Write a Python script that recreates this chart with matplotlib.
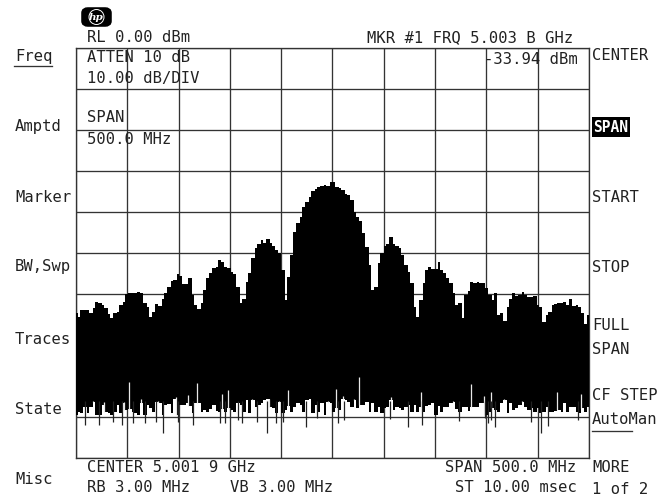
import matplotlib
matplotlib.use("Agg")
import matplotlib.pyplot as plt
import numpy as np
from matplotlib.patches import Ellipse, FancyBboxPatch, Rectangle

W, H = 661, 501

start_mhz = 4751.9
stop_mhz = 5251.9
ref_db = 0.0
bottom_db = -100.0

# upper edge of the trace, dBm, even steps across the sweep
trace_top = [
    -64.7, -65.5, -63.9, -63.9, -63.9, -64.6, -63.3, -61.9, -62.3, -62.7, -63.5, -64.9, -65.9, -64.6,
    -64.3, -62.7, -61.9, -60.0, -59.8, -59.8, -59.7, -59.4, -59.8, -62.3, -63.1, -65.5, -64.3, -62.4,
    -62.9, -61.1, -59.8, -58.2, -56.8, -56.6, -55.1, -55.6, -57.6, -57.6, -56.0, -60.2, -62.7, -63.7,
    -62.3, -59.0, -56.0, -54.8, -53.7, -53.3, -51.7, -52.1, -53.5, -53.7, -54.6, -55.1, -58.2,
    -62.1, -61.1, -57.0, -55.0, -51.1, -48.9, -47.8, -46.8, -47.6, -46.7, -47.5, -48.3, -49.3, -50.0,
    -54.2, -61.5, -55.8, -50.5, -44.8, -42.8, -41.1, -38.7, -37.5, -36.3, -34.8, -34.5, -33.8, -33.7,
    -33.4, -33.7, -32.7, -32.8, -33.8, -34.2, -34.6, -35.6, -35.9, -37.1, -39.9, -41.1, -42.1, -45.2,
    -48.5, -52.9, -59.0, -58.2, -52.5, -50.1, -48.3, -47.8, -46.0, -47.8, -48.3, -48.9, -50.5, -52.9, -54.6,
    -57.4, -63.1, -65.5, -61.5, -57.4, -54.2, -53.5, -54.0, -54.0, -52.1, -54.2, -55.0, -56.2, -57.4,
    -59.8, -62.7, -62.3, -65.9, -60.2, -59.2, -57.0, -57.4, -57.0, -57.4, -57.2, -58.6, -60.2, -61.5,
    -59.8, -65.1, -64.7, -66.5, -63.1, -61.1, -59.8, -60.5, -60.2, -59.4, -60.2, -60.7, -60.7, -60.5,
    -62.7, -63.1, -66.8, -65.1, -64.3, -62.7, -62.4, -62.3, -62.3, -61.9, -62.7, -61.1, -62.9, -62.7,
    -63.1, -64.7, -67.2, -65.1,
]

# lower edge of the trace, dBm
trace_floor = [
    -89.5, -88.7, -89.1, -87.5, -89.1, -87.5, -86.3, -89.5, -89.5, -87.1, -88.7, -89.1, -89.5, -88.7,
    -87.1, -89.1, -86.7, -88.3, -88.1, -88.7, -89.1, -89.5, -86.7, -89.5, -87.1, -87.9, -88.7, -86.3,
    -86.7, -89.5, -87.1, -86.9, -89.1, -85.5, -89.5, -87.1, -87.1, -86.7, -87.3, -89.1, -86.7, -86.7,
    -88.7, -88.3, -88.7, -88.1, -87.1, -88.5, -88.7, -88.1, -88.7, -87.9, -88.3, -88.7, -86.7,
    -87.1, -88.7, -85.9, -89.1, -85.9, -87.5, -87.1, -86.7, -85.9, -85.7, -87.5, -87.9, -89.1, -86.3,
    -89.1, -88.3, -87.3, -88.7, -87.5, -86.7, -87.1, -88.7, -85.9, -85.5, -89.1, -87.1, -88.7, -86.7,
    -89.5, -86.3, -86.7, -88.7, -87.9, -88.3, -85.5, -85.9, -86.3, -87.5, -85.9, -87.9, -87.1, -87.1,
    -86.3, -88.7, -86.7, -88.7, -87.5, -89.1, -87.9, -87.5, -85.9, -88.3, -87.5, -87.9, -88.3, -87.5, -87.1,
    -88.7, -87.1, -88.7, -87.5, -88.7, -87.3, -87.1, -86.7, -89.5, -87.3, -88.7, -87.5, -87.5, -86.7,
    -86.3, -88.1, -88.7, -87.5, -87.5, -88.5, -87.5, -87.6, -87.5, -86.7, -86.7, -89.5, -88.7, -87.9,
    -88.3, -88.7, -86.7, -85.9, -89.1, -86.7, -88.3, -87.9, -87.1, -86.3, -87.5, -88.3, -87.9, -88.7,
    -87.9, -89.1, -88.7, -87.5, -88.7, -88.7, -88.5, -88.3, -88.7, -86.7, -88.7, -87.5, -87.6, -88.7,
    -89.1, -87.9, -88.7, -87.6,
]

# thin gaps cut up into the black band
notch_mhz = [
    4803.6, 4869.5, 4900.4, 4893.9, 4861.4, 4815.3, 4849.4, 4768.1, 4779.2, 4799.0, 4831.5, 4846.8,
    4918.3, 4958.2, 5005.3, 5027.7, 5011.8, 5022.9, 4977.7, 5058.9, 4923.1, 4940.3, 4949.4, 4997.9,
    5087.8, 5136.5, 5149.9, 5156.4, 5168.7, 5220.4, 5244.1, 5186.2, 5119.0,
]
notch_db = [
    -81.4, -81.8, -83.4, -84.4, -84.6, -85.5, -85.2, -86.0, -86.4, -86.4, -86.0, -85.5,
    -85.9, -83.4, -83.2, -80.3, -85.0, -85.5, -85.5, -85.2, -85.7, -85.5, -86.0, -86.0,
    -83.8, -82.0, -85.0, -83.9, -85.7, -83.9, -84.4, -86.0, -86.0,
]

# thin spikes hanging below the band
dip_mhz = [
    4760.7, 4774.6, 4788.3, 4796.4, 4807.8, 4819.2, 4829.9, 4837.0, 4851.0, 4865.6, 4892.3, 4897.1,
    4909.5, 4913.4, 4928.0, 4937.7, 4946.8, 4954.0, 4975.8, 4986.5, 5007.6, 5013.4, 5057.9, 5075.2,
    5088.8, 5125.5, 5150.2, 5153.8, 5156.4, 5160.3, 5195.0, 5205.1, 5211.6, 5240.8,
]
dip_db = [
    -92.0, -92.0, -91.1, -92.0, -91.5, -91.5, -91.1, -93.8, -91.1, -92.0, -91.5, -91.5,
    -90.7, -91.5, -91.1, -93.8, -91.5, -91.1, -92.5, -90.3, -91.5, -90.7, -90.5, -92.4,
    -92.0, -90.9, -90.3, -91.5, -90.7, -92.4, -91.1, -93.8, -92.2, -90.7,
]

menu_left = ["Freq", "Amptd", "Marker", "BW,Swp", "Traces", "State", "Misc"]
menu_left_y = [57, 127, 197, 267, 339, 409, 480]
menu_right = ["CENTER", "START", "STOP", "FULL", "SPAN", "CF STEP", "AutoMan", "MORE", "1 of 2"]
menu_right_y = [56, 197, 267, 326, 349, 396, 420, 467, 490]

readouts = [
    ("RL 0.00 dBm", 87, 38),
    ("ATTEN 10 dB", 87, 58),
    ("10.00 dB/DIV", 87, 79),
    ("SPAN", 87, 118),
    ("500.0 MHz", 87, 140),
    ("MKR #1 FRQ 5.003 B GHz", 367, 38),
    ("-33.94 dBm", 484, 60),
    ("CENTER 5.001 9 GHz", 87, 468),
    ("RB 3.00 MHz", 87, 488),
    ("VB 3.00 MHz", 230, 488),
    ("SPAN 500.0 MHz", 445, 468),
    ("ST 10.00 msec", 455, 488),
]


def px_text(fig, x, y, s, **kw):
    opts = dict(family="DejaVu Sans Mono", fontsize=11.2, color="#222222", va="center", ha="left")
    opts.update(kw)
    return fig.text(x / W, 1 - y / H, s, **opts)


def main():

    fig = plt.figure(figsize=(W / 100, H / 100), dpi=100)
    ax = fig.add_axes([76 / W, 1 - 458 / H, (589 - 76) / W, (458 - 48) / H])

    ax.set_xlim(start_mhz, stop_mhz)
    ax.set_ylim(bottom_db, ref_db)
    ax.set_xticks(np.linspace(start_mhz, stop_mhz, 11))
    ax.set_yticks(np.linspace(bottom_db, ref_db, 11))
    ax.tick_params(length=0, labelbottom=False, labelleft=False)
    ax.grid(True, color="#333333", linewidth=0.95)
    ax.set_axisbelow(True)
    for spine in ax.spines.values():
        spine.set_color("#333333")
        spine.set_linewidth(0.95)

    top_x = np.linspace(start_mhz, stop_mhz, len(trace_top))
    floor_x = np.linspace(start_mhz, stop_mhz, len(trace_floor))

    ax.fill_between(top_x, trace_top, -75, step="mid", color="black", linewidth=0, zorder=3)
    ax.fill_between(floor_x, trace_floor, -75, step="mid", color="black", linewidth=0, zorder=3)

    floor_at_notch = np.array(trace_floor)[np.searchsorted(floor_x, notch_mhz).clip(0, len(floor_x) - 1)]
    ax.vlines(notch_mhz, floor_at_notch, notch_db, color="#e8e8e8", linewidth=0.9, zorder=4)
    ax.vlines(dip_mhz, -86, dip_db, color="#222222", linewidth=0.9, zorder=4)

    for label, y in zip(menu_left, menu_left_y):
        px_text(fig, 15, y, label)
    for label, y in zip(menu_right, menu_right_y):
        px_text(fig, 592, y, label)
    for label, x, y in readouts:
        px_text(fig, x, y, label)

    # softkey that is switched on
    fig.add_artist(Rectangle((592 / W, 1 - 137 / H), 38 / W, 20 / H,
                             transform=fig.transFigure, color="black", linewidth=0))
    px_text(fig, 593, 127, "SPAN", color="white", fontweight="bold", fontsize=10.5)

    # underlines
    for x0, x1, y in [(14, 52, 66), (592, 632, 431)]:
        fig.add_artist(plt.Line2D([x0 / W, x1 / W], [1 - y / H, 1 - y / H],
                                  transform=fig.transFigure, color="#333333", linewidth=0.95))

    # hp badge
    fig.add_artist(FancyBboxPatch((84 / W, 1 - 24 / H), 25 / W, 14 / H,
                                  boxstyle="round,pad=0,rounding_size=0.006",
                                  transform=fig.transFigure, facecolor="black",
                                  edgecolor="black", linewidth=4))
    fig.add_artist(Ellipse((96.5 / W, 1 - 17 / H), 15 / W, 15 / H, transform=fig.transFigure,
                           facecolor="none", edgecolor="white", linewidth=0.7))
    fig.text(96.5 / W, 1 - 17 / H, "hp", color="white", fontsize=7.5, style="italic",
             fontweight="bold", family="DejaVu Serif", ha="center", va="center")

    fig.savefig("out.png", dpi=100)
    plt.close(fig)


if __name__ == "__main__":
    main()
